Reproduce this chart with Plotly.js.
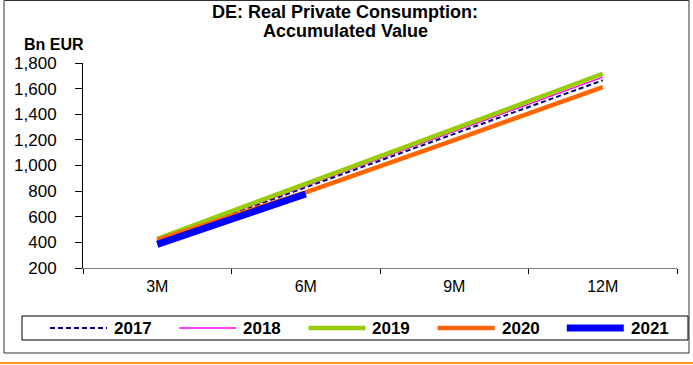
<!DOCTYPE html>
<html><head><meta charset="utf-8">
<script src="https://cdn.plot.ly/plotly-3.0.1.min.js"></script>
<style>html,body{margin:0;padding:0;background:#fff}#chart{width:693px;height:365px}</style>
</head><body><div id="chart"></div>
<script>
const categories = ['3M', '6M', '9M', '12M'];
const seriesNames = ['2017', '2018', '2019', '2020', '2021'];
const v2017 = [412, 830, 1248, 1665];
const v2018 = [418, 842, 1266, 1690];
const v2019 = [428, 860, 1288, 1716];
const v2020 = [420, 790, 1198, 1612];
const v2021 = [384, 778];
const yTickVals = [200, 400, 600, 800, 1000, 1200, 1400, 1600, 1800];
const titleLines = ['DE: Real Private Consumption:', 'Accumulated Value'];

const values = [v2017, v2018, v2019, v2020, v2021];
const colors = ['#000080', '#FF00FF', '#99CC00', '#FF6600', '#0000FF'];
const widths = [2, 1.5, 4.5, 4.5, 7];
const dashes = ['5px,3px', 'solid', 'solid', 'solid', 'solid'];

const FONT = 'Arial, "Liberation Sans", sans-serif';
const W = 693, H = 365, L = 83, R = 677, T = 63, B = 268;
const px = x => (x - L) / (R - L);
const py = y => (B - y) / (B - T);

const traces = seriesNames.map((n, i) => ({
  type: 'scatter', mode: 'lines', name: n,
  x: categories.slice(0, values[i].length), y: values[i],
  line: {color: colors[i], width: widths[i], dash: dashes[i]},
  showlegend: false, hoverinfo: 'skip'
}));

const shapes = [
  {type: 'rect', xref: 'paper', yref: 'paper', x0: px(4), x1: px(689), y0: py(353), y1: py(0.5),
   line: {color: '#333', width: 1}},
  {type: 'line', xref: 'paper', yref: 'paper', x0: px(0), x1: px(693), y0: py(363), y1: py(363),
   line: {color: '#F7981D', width: 2}},
  {type: 'rect', xref: 'paper', yref: 'paper', x0: px(22), x1: px(688), y0: py(340), y1: py(316),
   line: {color: '#000', width: 1}}
];
const annotations = [
  {xref: 'paper', yref: 'paper', x: px(22), y: py(45), xanchor: 'left', yanchor: 'middle',
   text: '<b>Bn EUR</b>', showarrow: false, font: {family: FONT, size: 16, color: '#000'}},
  {xref: 'paper', yref: 'paper', x: px(345), y: py(12), xanchor: 'center', yanchor: 'middle',
   text: '<b>' + titleLines[0] + '</b>', showarrow: false, font: {family: FONT, size: 18, color: '#000'}},
  {xref: 'paper', yref: 'paper', x: px(345), y: py(31), xanchor: 'center', yanchor: 'middle',
   text: '<b>' + titleLines[1] + '</b>', showarrow: false, font: {family: FONT, size: 18, color: '#000'}}
];
seriesNames.forEach((n, i) => {
  const x0 = 50 + 129.2 * i;
  shapes.push({type: 'line', xref: 'paper', yref: 'paper', x0: px(x0), x1: px(x0 + 57), y0: py(328), y1: py(328),
    line: {color: colors[i], width: widths[i], dash: dashes[i]}});
  annotations.push({xref: 'paper', yref: 'paper', x: px(x0 + 62), y: py(328), xanchor: 'left', yanchor: 'middle',
    text: '<b>' + n + '</b>', showarrow: false, font: {family: FONT, size: 17, color: '#000'}});
});

const layout = {
  width: W, height: H,
  margin: {l: L, r: W - R, t: T, b: H - B, pad: 0},
  paper_bgcolor: '#fff', plot_bgcolor: '#fff',
  font: {family: FONT, size: 16, color: '#000'},
  xaxis: {type: 'category', categoryorder: 'array', categoryarray: categories, range: [-0.5, 3.5],
    tickson: 'boundaries', ticks: 'outside', ticklen: 5, tickcolor: '#000', showline: true, linecolor: '#808080',
    linewidth: 1, showgrid: false, zeroline: false, fixedrange: true, ticklabelstandoff: 4,
    tickfont: {family: FONT, size: 16}},
  yaxis: {range: [200, 1800], tickvals: yTickVals, tickformat: ',d', ticks: 'outside', ticklen: 7, tickcolor: '#000',
    showline: true, linecolor: '#000', linewidth: 1, showgrid: false, zeroline: false, fixedrange: true,
    ticklabelstandoff: 15, tickfont: {family: FONT, size: 17}},
  shapes: shapes, annotations: annotations, showlegend: false
};
Plotly.newPlot('chart', traces, layout, {displayModeBar: false, staticPlot: true});
</script></body></html>
